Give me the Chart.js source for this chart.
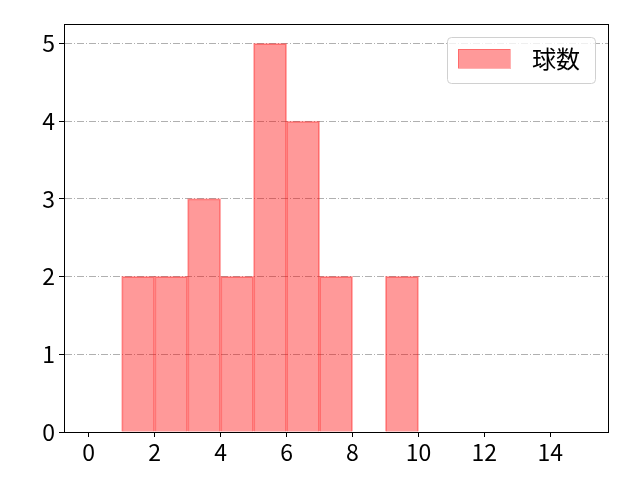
<!DOCTYPE html>
<html>
<head>
<meta charset="utf-8">
<script src="https://cdn.jsdelivr.net/npm/chart.js@4.4.0/dist/chart.umd.min.js"></script>
<style>
html,body{margin:0;padding:0;background:#fff;}
#wrap{width:640px;height:480px;}
</style>
</head>
<body>
<div id="wrap"><canvas id="c" width="640" height="480"></canvas></div>
<script>
const binCenters = [0.5,1.5,2.5,3.5,4.5,5.5,6.5,7.5,8.5,9.5,10.5,11.5,12.5,13.5,14.5];
const counts     = [0,  2,  2,  3,  2,  5,  4,  2,  0,  2,  0,   0,   0,   0,   0];
const seriesLabel = '球数';
const xTicks = [0,2,4,6,8,10,12,14];
const yTicks = [0,1,2,3,4,5];
const FONT = "'Noto Sans CJK JP', 'DejaVu Sans', sans-serif";

const framePlugin = {
  id: 'frame',
  afterDraw(chart) {
    const {ctx, chartArea: a} = chart;
    ctx.save();
    ctx.strokeStyle = '#000';
    ctx.lineWidth = 1;
    ctx.strokeRect(a.left + 0.5, a.top + 0.5, a.right - a.left, a.bottom - a.top);
    // legend
    const ds = chart.data.datasets[0];
    const bx = 447.5, by = 37.5, bw = 148, bh = 46, r = 4;
    ctx.globalAlpha = 0.8;
    ctx.fillStyle = '#fff';
    ctx.beginPath();
    ctx.roundRect(bx, by, bw, bh, r);
    ctx.fill();
    ctx.globalAlpha = 1;
    ctx.strokeStyle = '#d0d0d0';
    ctx.stroke();
    ctx.fillStyle = ds.backgroundColor;
    ctx.fillRect(458, 49, 52, 19);
    ctx.strokeStyle = ds.borderColor;
    ctx.strokeRect(458.5, 49.5, 52, 19);
    ctx.fillStyle = '#000';
    ctx.font = '24px ' + FONT;
    ctx.textBaseline = 'middle';
    ctx.textAlign = 'left';
    ctx.fillText(ds.label, 532, 59);
    ctx.restore();
  }
};

new Chart(document.getElementById('c'), {
  type: 'bar',
  data: {
    datasets: [{
      label: seriesLabel,
      data: binCenters.map((x, i) => ({x: x, y: counts[i]})),
      backgroundColor: 'rgba(255,0,0,0.4)',
      borderColor: 'rgba(255,0,0,0.3)',
      borderWidth: 1,
      inflateAmount: 0.5,
      barPercentage: 1,
      categoryPercentage: 1,
      grouped: false
    }]
  },
  options: {
    responsive: false,
    animation: false,
    devicePixelRatio: 1,
    layout: {padding: {left: 0, right: 32, top: 24, bottom: 0}},
    plugins: {legend: {display: false}, tooltip: {enabled: false}},
    scales: {
      x: {
        type: 'linear',
        offset: false,
        min: -0.75, max: 15.75,
        afterBuildTicks: s => { s.ticks = xTicks.map(v => ({value: v})); },
        afterFit: s => { s.height = 48; },
        grid: {offset: false, drawOnChartArea: false, drawTicks: true, tickLength: 5, tickColor: '#000'},
        border: {display: true, color: '#000', width: 1},
        ticks: {color: '#000', font: {family: FONT, size: 23}, padding: 1, maxRotation: 0, autoSkip: false}
      },
      y: {
        min: 0, max: 5.25,
        afterBuildTicks: s => { s.ticks = yTicks.map(v => ({value: v})); },
        afterFit: s => { s.width = 64; },
        grid: {color: '#b0b0b0', lineWidth: 1, drawTicks: true, tickLength: 5, tickColor: '#000'},
        border: {display: true, color: '#000', width: 1, dash: [7, 2, 1, 2]},
        ticks: {color: '#000', font: {family: FONT, size: 23}, padding: 4}
      }
    }
  },
  plugins: [framePlugin]
});
</script>
</body>
</html>
